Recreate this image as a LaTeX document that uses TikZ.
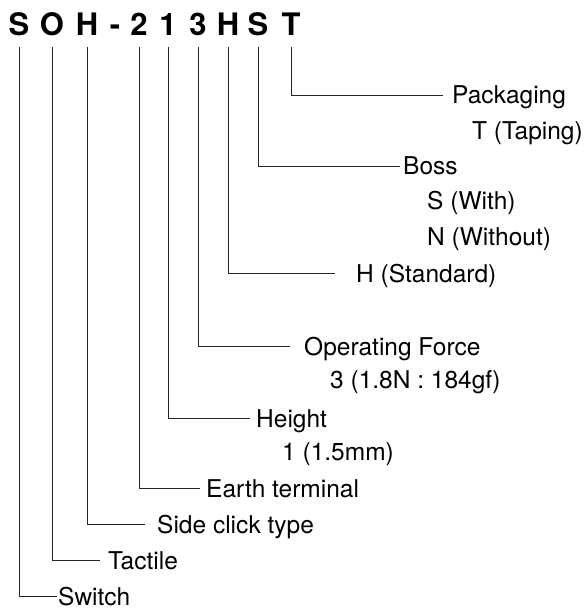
\documentclass[tikz,border=0pt]{standalone}
\usepackage{fontspec}
\setmainfont{TeX Gyre Heros}
\begin{document}
\begin{tikzpicture}[x=1pt,y=-1pt,
  code/.style={font=\fontsize{31}{38}\selectfont\bfseries, inner sep=0pt, anchor=base},
  lab/.style={font=\fontsize{24.5}{29}\selectfont, inner sep=0pt, text height=17.5pt, text depth=0pt, anchor=base west},
  lead/.style={draw=black!85, line width=0.8pt}]
\useasboundingbox (0,0) rectangle (585,609);
% part number letters
\node[code] (c1) at (19,36) {S};
\node[code] (c2) at (52,36) {O};
\node[code] (c3) at (87,36) {H};
\node[code] (c4) at (115,36) {-};
\node[code] (c5) at (139,36) {2};
\node[code] (c6) at (168,36) {1};
\node[code] (c7) at (198,36) {3};
\node[code] (c8) at (228,36) {H};
\node[code] (c9) at (258,36) {S};
\node[code] (c10) at (291,36) {T};
% labels
\node[lab] (lPack) at (452,104) {Packaging};
\node[lab] (lTap) at (472,140) {T (Taping)};
\node[lab] (lBoss) at (403,175) {Boss};
\node[lab] (lWith) at (427,210) {S (With)};
\node[lab] (lWout) at (427,245) {N (Without)};
\node[lab] (lStd) at (356,282) {H (Standard)};
\node[lab] (lOp) at (304,355) {Operating Force};
\node[lab] (lOpv) at (330,388) {3 (1.8N : 184gf)};
\node[lab] (lHt) at (256,427) {Height};
\node[lab] (lHtv) at (282,460) {1 (1.5mm)};
\node[lab] (lEarth) at (206,497) {Earth terminal};
\node[lab] (lSide) at (157,533) {Side click type};
\node[lab] (lTact) at (108,569) {Tactile};
\node[lab] (lSw) at (58,605) {Switch};
% leaders
\draw[lead] ([yshift=-11pt]c10.base) |- ([xshift=-9pt]lPack.west);
\draw[lead] ([yshift=-11pt]c9.base) |- ([xshift=-3pt]lBoss.west);
\draw[lead] ([yshift=-11pt]c8.base) |- ([xshift=-21pt]lStd.west);
\draw[lead] ([yshift=-11pt]c7.base) |- ([xshift=-14pt]lOp.west);
\draw[lead] ([yshift=-11pt]c6.base) |- ([xshift=-6pt]lHt.west);
\draw[lead] ([yshift=-11pt]c5.base) |- ([xshift=-6pt]lEarth.west);
\draw[lead] ([yshift=-11pt]c3.base) |- ([xshift=-12pt]lSide.west);
\draw[lead] ([yshift=-11pt]c2.base) |- ([xshift=-8pt]lTact.west);
\draw[lead] ([yshift=-11pt]c1.base) |- ([xshift=-1pt]lSw.west);
\end{tikzpicture}
\end{document}
